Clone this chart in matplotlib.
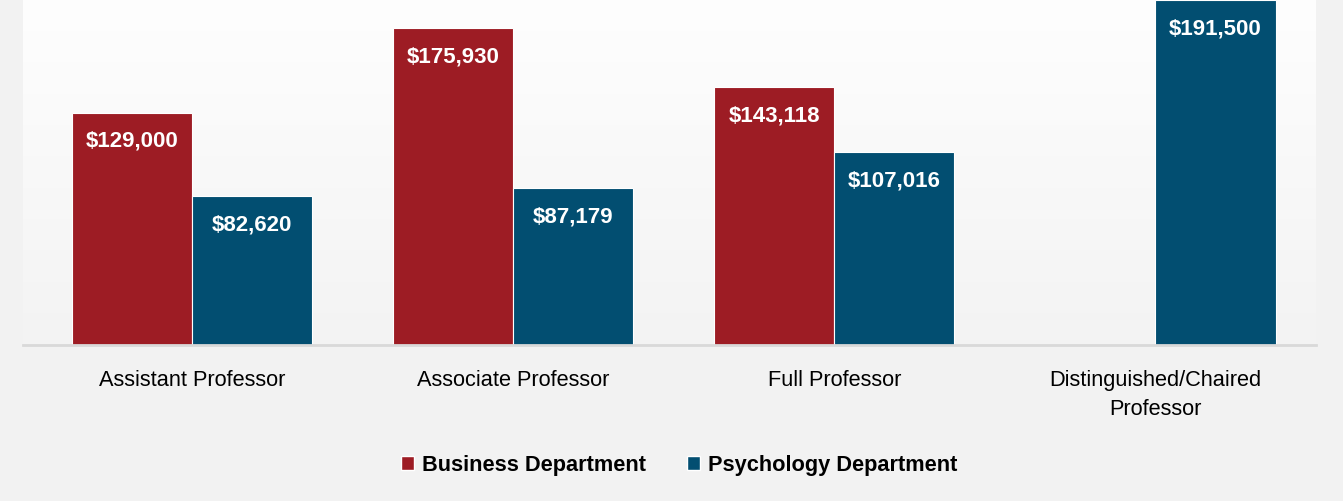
import numpy as np
import matplotlib.pyplot as plt
from matplotlib.patches import Patch
from matplotlib.colors import LinearSegmentedColormap

categories = ["Assistant Professor", "Associate Professor", "Full Professor",
              "Distinguished/Chaired\nProfessor"]
business = [129000, 175930, 143118, None]
psychology = [82620, 87179, 107016, 191500]
series_names = ["Business Department", "Psychology Department"]

RED = "#9D1C24"
BLUE = "#024E71"
FONT = ["Liberation Sans", "DejaVu Sans"]
plt.rcParams["font.family"] = FONT

W, H = 1343, 502
fig = plt.figure(figsize=(W / 100, H / 100), dpi=100, facecolor="#f2f2f2")
ax = fig.add_axes([23 / W, (H - 346) / H, (1316 - 23) / W, 346 / H])

x = np.arange(len(categories))
bw = 0.374
ymax = 191500 * 346 / 345

# background gradient inside plot area
grad = LinearSegmentedColormap.from_list("bg", ["#f3f3f3", "#fefefe"])
ax.imshow(np.linspace(0, 1, 256).reshape(-1, 1), cmap=grad, aspect="auto",
          extent=(-0.6, 3.6, 0, ymax), origin="lower", zorder=0)

for i in range(len(categories)):
    if business[i] is not None:
        ax.bar(x[i] - bw / 2, business[i], bw, color=RED, edgecolor="white",
               linewidth=0.8, zorder=2)
        ax.text(x[i] - bw / 2, business[i] - ymax * 0.08, f"${business[i]:,}",
                ha="center", va="center", color="white", fontsize=16,
                fontweight="bold", zorder=3)
    if psychology[i] is not None:
        ax.bar(x[i] + bw / 2, psychology[i], bw, color=BLUE, edgecolor="white",
               linewidth=0.8, zorder=2)
        ax.text(x[i] + bw / 2, psychology[i] - ymax * 0.08, f"${psychology[i]:,}",
                ha="center", va="center", color="white", fontsize=16,
                fontweight="bold", zorder=3)

ax.set_xlim(-0.526, 3.50)
ax.set_ylim(0, ymax)
ax.set_facecolor("none")
for s in ["top", "right", "left"]:
    ax.spines[s].set_visible(False)
ax.spines["bottom"].set_color("#d9d9d9")
ax.spines["bottom"].set_linewidth(2)
ax.set_yticks([])
ax.set_xticks(x)
ax.set_xticklabels(categories, fontsize=15.7, linespacing=1.5)
ax.tick_params(axis="x", length=0, pad=17)

handles = [Patch(facecolor=RED, edgecolor="white"), Patch(facecolor=BLUE, edgecolor="white")]
fig.legend(handles, series_names, loc="center", bbox_to_anchor=(0.5056, 0.072), ncol=2,
           frameon=False, prop={"family": FONT, "weight": "bold", "size": 15.7},
           handlelength=0.6, handleheight=0.6, handletextpad=0.35, columnspacing=1.9)

fig.savefig("out.png", dpi=100, facecolor=fig.get_facecolor())
